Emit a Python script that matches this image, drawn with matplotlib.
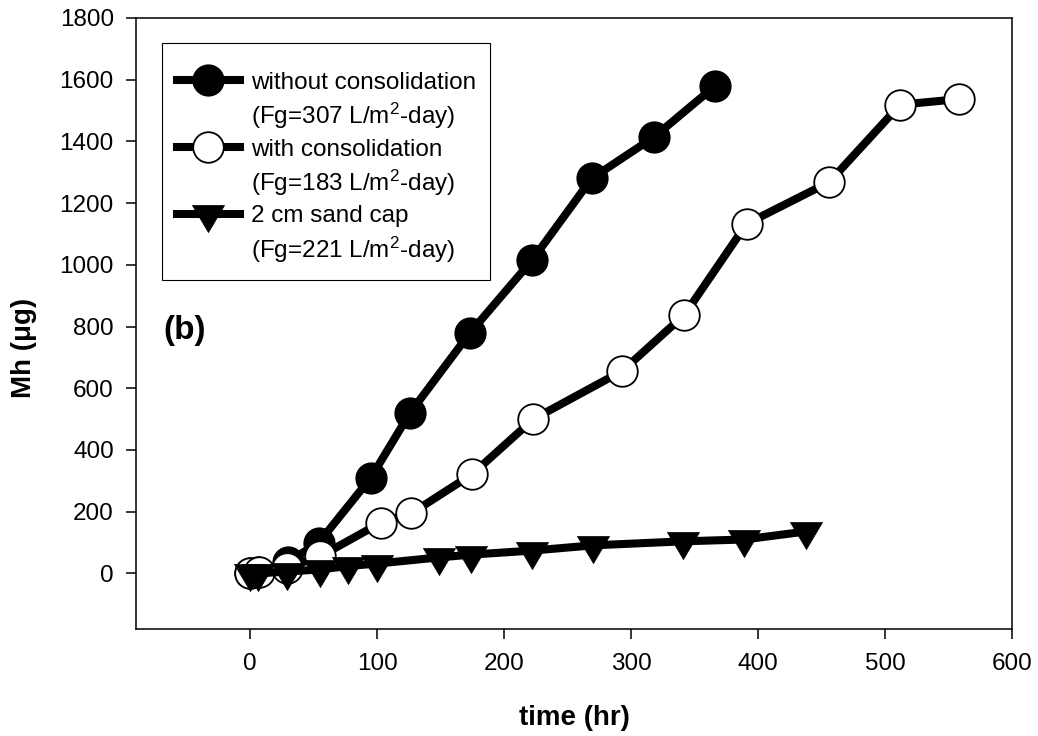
import numpy as np
import matplotlib
matplotlib.use("Agg")
import matplotlib.pyplot as plt
from matplotlib.lines import Line2D

plt.rcParams["font.family"] = ["Liberation Sans", "DejaVu Sans"]
plt.rcParams["mathtext.fontset"] = "custom"
plt.rcParams["mathtext.rm"] = "Liberation Sans"
plt.rcParams["mathtext.it"] = "Liberation Sans:italic"
plt.rcParams["mathtext.bf"] = "Liberation Sans:bold"

# without consolidation (filled circles)
t_without = [0, 6, 30, 54, 95, 126, 173, 222, 269, 318, 366]
mh_without = [0, 5, 38, 100, 310, 521, 779, 1015, 1280, 1414, 1579]

# with consolidation (open circles)
t_with = [0, 7, 29, 55, 103, 127, 175, 223, 293, 342, 391, 456, 512, 558]
mh_with = [3, 6, 19, 55, 165, 195, 322, 500, 656, 838, 1133, 1268, 1519, 1537]

# 2 cm sand cap (triangles)
t_cap = [0, 6, 29, 55, 77, 100, 149, 174, 222, 270, 341, 389, 438]
mh_cap = [0, 0, 6, 13, 24, 32, 52, 61, 74, 91, 104, 110, 136]

labels = [
    ["without consolidation", "(Fg=307 L/m$^{2}$-day)"],
    ["with consolidation", "(Fg=183 L/m$^{2}$-day)"],
    ["2 cm sand cap", "(Fg=221 L/m$^{2}$-day)"],
]

x_ticks = [0, 100, 200, 300, 400, 500, 600]
y_ticks = [0, 200, 400, 600, 800, 1000, 1200, 1400, 1600, 1800]

# triangle with its centroid at the origin (like SigmaPlot)
tri = [(-16, 9), (16, 9), (0, -18), (-16, 9)]

fig = plt.figure(figsize=(10.38, 7.36), dpi=100)
ax = fig.add_axes([0.1310, 0.1454, 0.8439, 0.8302])

lw = 5.8
h1, = ax.plot(t_without, mh_without, color="black", lw=lw, marker="o",
              markersize=22, markerfacecolor="black", markeredgecolor="black",
              markeredgewidth=1.2, zorder=3)
h2, = ax.plot(t_with, mh_with, color="black", lw=lw, marker="o",
              markersize=22, markerfacecolor="white", markeredgecolor="black",
              markeredgewidth=1.3, zorder=4)
h3, = ax.plot(t_cap, mh_cap, color="black", lw=lw, marker=tri,
              markersize=26, markerfacecolor="black", markeredgecolor="black",
              markeredgewidth=0.5, zorder=5)

ax.set_xlim(-90, 600)
ax.set_ylim(-180, 1800)
ax.set_xticks(x_ticks)
ax.set_yticks(y_ticks)
ax.tick_params(axis="both", direction="out", length=7, width=1.1,
               labelsize=17.5, top=False, right=False)
ax.tick_params(axis="x", pad=10)
ax.tick_params(axis="y", pad=9)
for s in ax.spines.values():
    s.set_linewidth(1.1)

ax.set_xlabel("time (hr)", fontsize=20, fontweight="bold", labelpad=22)
ax.set_ylabel("Mh (μg)", fontsize=20, fontweight="bold")
ax.yaxis.set_label_coords(-0.113, 0.46)

ax.text(0.031, 0.489, "(b)", transform=ax.transAxes, fontsize=24,
        fontweight="bold", ha="left", va="center")

blank = Line2D([], [], linestyle="none", marker="none")
handles = [h1, blank, h2, blank, h3, blank]
leg_labels = [labels[0][0], labels[0][1], labels[1][0], labels[1][1],
              labels[2][0], labels[2][1]]
leg = ax.legend(handles, leg_labels, loc="upper left",
                bbox_to_anchor=(0.0297, 0.959), borderaxespad=0,
                fontsize=17.5, handlelength=2.6, handletextpad=0.45,
                labelspacing=0.3, borderpad=0.6, fancybox=False,
                framealpha=1, edgecolor="black", numpoints=1,
                title=" ", title_fontsize=5)
leg.get_frame().set_linewidth(0.8)

fig.savefig("out.png", dpi=100)
